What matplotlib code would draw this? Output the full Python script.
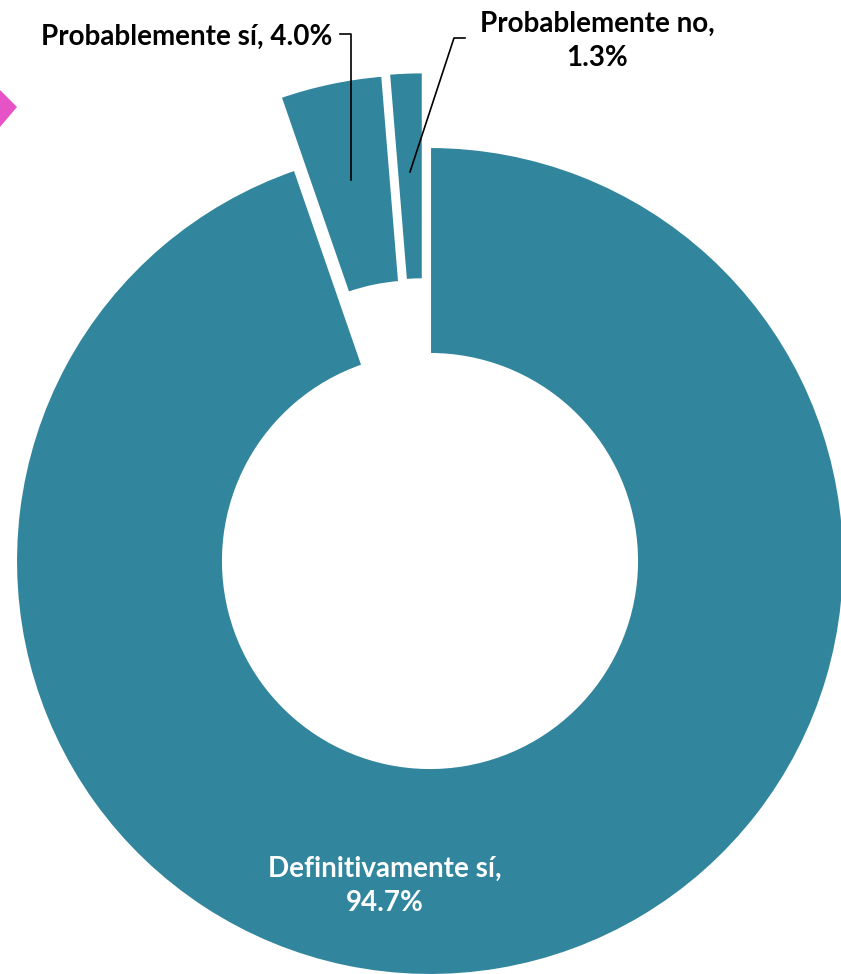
import numpy as np
import matplotlib
matplotlib.use("Agg")
import matplotlib.pyplot as plt
from matplotlib.patches import Polygon

# data (counter-clockwise from 12 o'clock)
labels = ["Probablemente no,\n1.3%", "Probablemente sí, 4.0%", "Definitivamente sí,\n94.7%"]
values = [1.3, 4.0, 94.7]
colour = "#31859C"

W, H = 841, 974
fig = plt.figure(figsize=(W / 100, H / 100), dpi=100)
ax = fig.add_axes([0, 0, 1, 1])

cx, cy, R = 430, H - 561, 414
wedges, _ = ax.pie(values, colors=[colour] * 3, startangle=90, counterclock=True,
                   radius=R, center=(cx, cy),
                   wedgeprops=dict(width=R * 0.5, edgecolor="white", linewidth=1.5),
                   frame=True)
ax.set_xlim(0, W)
ax.set_ylim(0, H)
ax.set_aspect("equal")
ax.axis("off")

# pulled-out small slices (offset distance and direction, degrees from vertical)
pull = [(75, 5.5), (74, 10.9)]
anchors = []
for w, (d, a) in zip(wedges[:2], pull):
    a = np.radians(a)
    c = (cx - d * np.sin(a), cy + d * np.cos(a))
    w.set_center(c)
    mid = np.radians((w.theta1 + w.theta2) / 2)
    r = 0.76 * R
    anchors.append((c[0] + r * np.cos(mid), c[1] + r * np.sin(mid)))

font = ["Lato", "DejaVu Sans"]
fs = 20

# label: Probablemente no
ax.text(597, H - 41, labels[0], ha="center", va="center", fontsize=fs,
        fontweight="bold", family=font, linespacing=1.4)
p0 = anchors[0]
ax.plot([p0[0], 454, 465], [p0[1], H - 38, H - 38], color="black", lw=1.2)

# label: Probablemente sí
ax.text(332, H - 37, labels[1], ha="right", va="center", fontsize=fs,
        fontweight="bold", family=font)
p1 = anchors[1]
ax.plot([340, p1[0], p1[0]], [H - 34, H - 34, p1[1]], color="black", lw=1.2)

# label inside big slice
ax.text(385, H - 886, labels[2], ha="center", va="center", fontsize=fs,
        fontweight="bold", family=font, color="white", linespacing=1.4)

# pink decoration at the left edge
fig.patches.append(Polygon([(17 / W, 1 - 107 / H), (-6 / W, 1 - 84 / H),
                            (-30 / W, 1 - 110 / H), (-6 / W, 1 - 134 / H)],
                           closed=True, transform=fig.transFigure,
                           facecolor="#E553C6", edgecolor="none"))

fig.savefig("out.png", dpi=100)
